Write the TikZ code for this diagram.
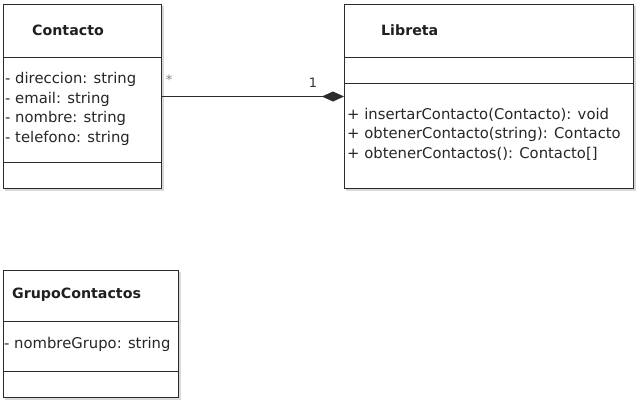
\documentclass[tikz,border=0pt]{standalone}
\usepackage{fontspec}
\setmainfont{DejaVu Sans}
\usetikzlibrary{arrows.meta}
\definecolor{umlline}{HTML}{2B2B2B}
\tikzset{
  classbox/.style={draw=umlline, line width=1pt, fill=white, rectangle, inner sep=0pt, anchor=north west},
  title/.style={font=\fontsize{14.2}{16}\selectfont\bfseries, anchor=west, inner sep=0pt, text=black!88},
  member/.style={font=\fontsize{14.8}{17}\selectfont, anchor=west, inner sep=0pt, text=black!85},
  divider/.style={draw=umlline, line width=1pt},
  assoc/.style={draw=umlline, line width=1pt},
  mult/.style={font=\fontsize{13}{15}\selectfont, inner sep=0pt, text=black!80}
}
\begin{document}
\begin{tikzpicture}[x=1pt,y=-1pt]
\useasboundingbox (0,0) rectangle (641,400);
% shadows
\fill[black!15] (5,6) rectangle (164,191);
\fill[black!15] (346,6) rectangle (636,191);
\fill[black!15] (5,272) rectangle (181,400);
% Contacto
\node[classbox, minimum width=158pt, minimum height=184pt] (contacto) at (3,4) {};
\draw[divider] ([yshift=-53pt]contacto.north west) -- ([yshift=-53pt]contacto.north east);
\draw[divider] ([yshift=-158pt]contacto.north west) -- ([yshift=-158pt]contacto.north east);
\node[title] (tc) at (32,30) {Contacto};
\node[member] (c1) at (5,79) {- direccion: string};
\node[member] (c2) at (5,99) {- email: string};
\node[member] (c3) at (5,118) {- nombre: string};
\node[member] (c4) at (5,138) {- telefono: string};
% Libreta
\node[classbox, minimum width=289pt, minimum height=184pt] (libreta) at (344,4) {};
\draw[divider] ([yshift=-53pt]libreta.north west) -- ([yshift=-53pt]libreta.north east);
\draw[divider] ([yshift=-79pt]libreta.north west) -- ([yshift=-79pt]libreta.north east);
\node[title] (tl) at (381,30) {Libreta};
\node[member] (l1) at (347,115) {+ insertarContacto(Contacto): void};
\node[member] (l2) at (347,134) {+ obtenerContacto(string): Contacto};
\node[member] (l3) at (347,154) {+ obtenerContactos(): Contacto[]};
% GrupoContactos
\node[classbox, minimum width=175pt, minimum height=127pt] (grupo) at (3,270) {};
\draw[divider] ([yshift=-51pt]grupo.north west) -- ([yshift=-51pt]grupo.north east);
\draw[divider] ([yshift=-101pt]grupo.north west) -- ([yshift=-101pt]grupo.north east);
\node[title] (tg) at (12,295) {GrupoContactos};
\node[member] (g1) at (4,344) {- nombreGrupo: string};
% association (composition)
\draw[assoc, -{Diamond[length=22pt,width=10pt]}] (contacto.east) -- (libreta.west);
\node[mult, text=black!50] (m1) at (169,80) {*};
\node[mult] (m2) at (313,83) {1};
\end{tikzpicture}
\end{document}
